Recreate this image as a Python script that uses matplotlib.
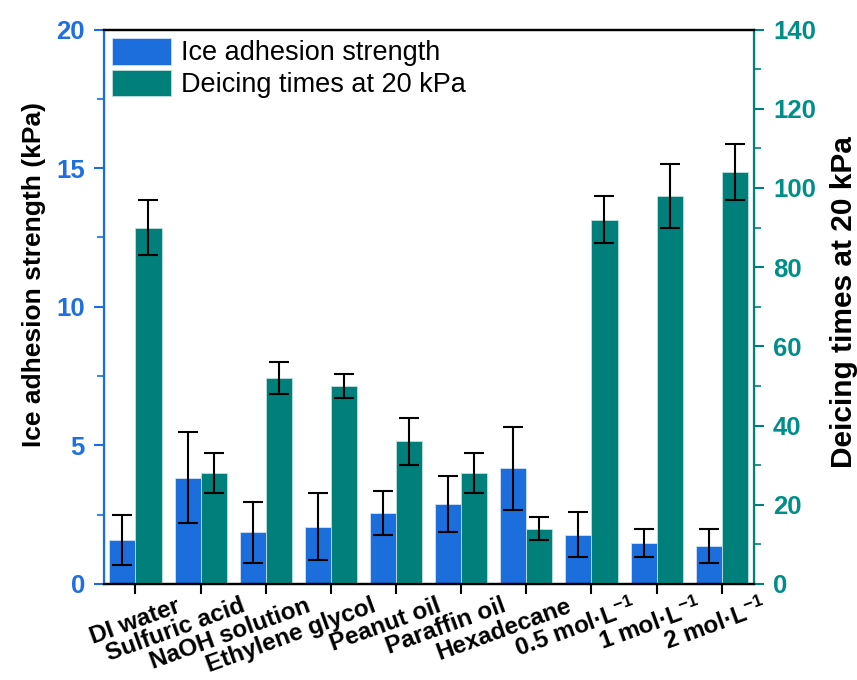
import matplotlib
matplotlib.use("Agg")
import matplotlib.pyplot as plt
from matplotlib.ticker import MultipleLocator
from matplotlib.transforms import ScaledTranslation
import numpy as np

plt.rcParams['font.family'] = ['Liberation Sans', 'DejaVu Sans']
plt.rcParams['mathtext.fontset'] = 'custom'
plt.rcParams['mathtext.rm'] = 'Liberation Sans'
plt.rcParams['mathtext.bf'] = 'Liberation Sans:bold'
plt.rcParams['mathtext.it'] = 'Liberation Sans:italic'

categories = ["DI water", "Sulfuric acid", "NaOH solution", "Ethylene glycol",
              "Peanut oil", "Paraffin oil", "Hexadecane",
              r"0.5 mol·L$^{\mathbf{-1}}$", r"1 mol·L$^{\mathbf{-1}}$", r"2 mol·L$^{\mathbf{-1}}$"]

adhesion = [1.58, 3.84, 1.87, 2.07, 2.56, 2.89, 4.18, 1.78, 1.49, 1.37]
adhesion_err = [0.90, 1.63, 1.10, 1.20, 0.80, 1.00, 1.50, 0.80, 0.50, 0.60]

deicing = [90, 28, 52, 50, 36, 28, 14, 92, 98, 104]
deicing_err = [7, 5, 4, 3, 6, 5, 3, 6, 8, 7]

BLUE = "#1B6EDC"
TEAL = "#007F7B"
TEAL_TXT = "#008E8A"
BLUE_TXT = "#1F6FE0"

fig = plt.figure(figsize=(8.57, 6.8), dpi=100)
ax = fig.add_axes([0.1208, 0.1412, 0.7594, 0.8154])
ax2 = ax.twinx()

x = np.arange(len(categories))
w = 0.4
err_kw = dict(ecolor="black", elinewidth=1.5, capsize=7.5, capthick=1.5)

b1 = ax.bar(x - w / 2, adhesion, w, yerr=adhesion_err, color=BLUE,
            edgecolor="#cfe0f5", linewidth=0.6, error_kw=err_kw,
            label="Ice adhesion strength", zorder=2)
b2 = ax2.bar(x + w / 2, deicing, w, yerr=deicing_err, color=TEAL,
             edgecolor="#bfe0de", linewidth=0.6, error_kw=err_kw,
             label="Deicing times at 20 kPa", zorder=2)

ax.set_xlim(-0.49, 9.5)
ax.set_ylim(0, 20)
ax2.set_ylim(0, 140)

ax.yaxis.set_major_locator(MultipleLocator(5))
ax.yaxis.set_minor_locator(MultipleLocator(2.5))
ax2.yaxis.set_major_locator(MultipleLocator(20))
ax2.yaxis.set_minor_locator(MultipleLocator(10))

ax.tick_params(axis="x", direction="out", length=7.5, width=1.5, color="black", pad=0)
ax.tick_params(axis="y", which="major", direction="out", length=7.5, width=1.5,
               colors=BLUE, labelcolor=BLUE_TXT, labelsize=18.5, pad=6)
ax.tick_params(axis="y", which="minor", direction="out", length=5, width=1.2, colors=BLUE)
ax2.tick_params(axis="y", which="major", direction="out", length=7.5, width=1.5,
                colors=TEAL, labelcolor=TEAL_TXT, labelsize=18.5, pad=6)
ax2.tick_params(axis="y", which="minor", direction="out", length=5, width=1.2, colors=TEAL)

for lab in ax.get_yticklabels() + ax2.get_yticklabels():
    lab.set_fontweight("bold")

# Rotated category labels, anchored at their upper-right corner a little right of each tick
ax.set_xticks(x)
ax.set_xticklabels(categories, rotation=20, rotation_mode="anchor",
                   ha="right", va="top", fontsize=17.5, fontweight="bold")
shift = ScaledTranslation(0.40, 0.0, fig.dpi_scale_trans)
for lab in ax.get_xticklabels():
    lab.set_transform(lab.get_transform() + shift)

for a in (ax, ax2):
    a.spines["top"].set_color("black")
    a.spines["bottom"].set_color("black")
    a.spines["top"].set_linewidth(1.6)
    a.spines["bottom"].set_linewidth(1.6)
ax2.spines["left"].set_color(BLUE)
ax2.spines["left"].set_linewidth(1.6)
ax2.spines["right"].set_color(TEAL)
ax2.spines["right"].set_linewidth(1.6)

ax.set_ylabel("Ice adhesion strength (kPa)", fontsize=19, fontweight="bold",
              color="black")
ax.yaxis.set_label_coords(-0.088, 0.559)
ax2.set_ylabel("Deicing times at 20 kPa", fontsize=21.5, fontweight="bold",
               color="black")
ax2.yaxis.set_label_coords(1.116, 0.5086)

handles = [b1, b2]
leg = ax.legend(handles, [h.get_label() for h in handles], loc="upper left",
                frameon=False, fontsize=19.5, handlelength=2.2, handleheight=1.15,
                handletextpad=0.35, labelspacing=0.12, borderaxespad=0.2,
                borderpad=0.1)

fig.savefig("out.png", dpi=100)
